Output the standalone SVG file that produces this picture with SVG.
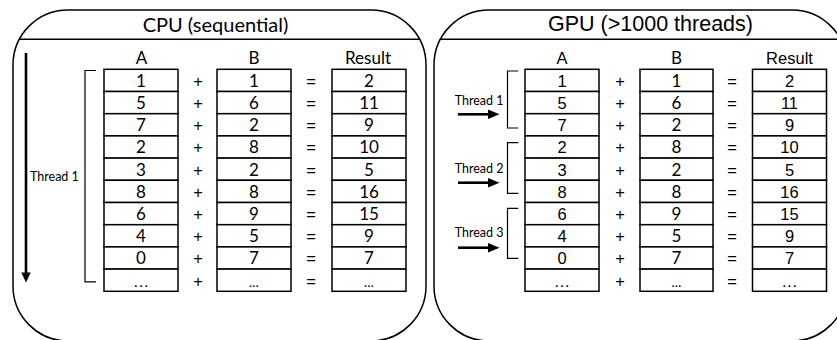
<svg xmlns="http://www.w3.org/2000/svg" width="837" height="340" viewBox="0 0 837 340">
<defs>
<style>
.panel{fill:#fff;stroke:#000;stroke-width:1.5}
.div{stroke:#000;stroke-width:1.5}
.cell{fill:#fff;stroke:#000;stroke-width:1.5}
.t{font-size:16.5px;text-anchor:middle;fill:#000}
.cal{font-family:Lato,"Open Sans",sans-serif;font-size:17px}
.ar{font-family:"Liberation Sans",Arial,sans-serif}
.title{text-anchor:middle;fill:#000}
.thr{font-family:Lato,"Open Sans",sans-serif;font-size:12.5px;fill:#000}
.br{fill:none;stroke:#000;stroke-width:1.2}
.arr{stroke:#000;stroke-width:2.6}
</style>
</defs>
<g id="panel-cpu">
<rect class="panel" x="13" y="10" width="413" height="331" rx="55" ry="55"/>
<line class="div" x1="19.5" y1="39.3" x2="419.5" y2="39.3"/>
<text class="title" x="215.5" y="31.5" style="font-family:Lato,'Open Sans',sans-serif;font-size:20px">CPU (sequential)</text>
</g>
<g id="panel-gpu">
<rect class="panel" x="434" y="10" width="413" height="331" rx="55" ry="55"/>
<line class="div" x1="440.5" y1="39.3" x2="840.5" y2="39.3"/>
<text class="title" x="650.5" y="31" style="font-family:'Liberation Sans',Arial,sans-serif;font-size:21.5px">GPU (&gt;1000 threads)</text>
</g>
<g id="cpu-headers">
<text class="t cal" x="141.5" y="64.3">A</text>
<text class="t cal" x="254" y="64.3">B</text>
<text class="t cal" x="368" y="64.3">Result</text>
</g>
<g id="gpu-headers">
<text class="t ar" x="562" y="64.3">A</text>
<text class="t cal" x="676.5" y="64.3">B</text>
<text class="t ar" x="789.5" y="64.3">Result</text>
</g>
<g id="cpu-col-a">
<rect class="cell" x="104" y="69.3" width="74" height="22.2"/><text class="t cal" x="141" y="86.7">1</text>
<rect class="cell" x="104" y="91.5" width="74" height="22.2"/><text class="t cal" x="141" y="108.9">5</text>
<rect class="cell" x="104" y="113.7" width="74" height="22.2"/><text class="t cal" x="141" y="131.1">7</text>
<rect class="cell" x="104" y="135.9" width="74" height="22.2"/><text class="t cal" x="141" y="153.3">2</text>
<rect class="cell" x="104" y="158.1" width="74" height="22.2"/><text class="t cal" x="141" y="175.5">3</text>
<rect class="cell" x="104" y="180.3" width="74" height="22.2"/><text class="t cal" x="141" y="197.7">8</text>
<rect class="cell" x="104" y="202.5" width="74" height="22.2"/><text class="t cal" x="141" y="219.9">6</text>
<rect class="cell" x="104" y="224.7" width="74" height="22.2"/><text class="t cal" x="141" y="242.1">4</text>
<rect class="cell" x="104" y="246.9" width="74" height="22.2"/><text class="t cal" x="141" y="264.3">0</text>
<rect class="cell" x="104" y="269.1" width="74" height="22.2"/><text class="t ar" x="141" y="286.5" font-size="14">…</text>
</g>
<g id="cpu-col-b">
<rect class="cell" x="217" y="69.3" width="74" height="22.2"/><text class="t cal" x="254" y="86.7">1</text>
<rect class="cell" x="217" y="91.5" width="74" height="22.2"/><text class="t cal" x="254" y="108.9">6</text>
<rect class="cell" x="217" y="113.7" width="74" height="22.2"/><text class="t cal" x="254" y="131.1">2</text>
<rect class="cell" x="217" y="135.9" width="74" height="22.2"/><text class="t cal" x="254" y="153.3">8</text>
<rect class="cell" x="217" y="158.1" width="74" height="22.2"/><text class="t cal" x="254" y="175.5">2</text>
<rect class="cell" x="217" y="180.3" width="74" height="22.2"/><text class="t cal" x="254" y="197.7">8</text>
<rect class="cell" x="217" y="202.5" width="74" height="22.2"/><text class="t cal" x="254" y="219.9">9</text>
<rect class="cell" x="217" y="224.7" width="74" height="22.2"/><text class="t cal" x="254" y="242.1">5</text>
<rect class="cell" x="217" y="246.9" width="74" height="22.2"/><text class="t cal" x="254" y="264.3">7</text>
<rect class="cell" x="217" y="269.1" width="74" height="22.2"/><text class="t cal" x="254" y="286.5" style="font-size:13px">…</text>
</g>
<g id="cpu-ops">
<text class="t ar" x="198" y="86.7">+</text><text class="t ar" x="311" y="86.7">=</text>
<text class="t ar" x="198" y="108.9">+</text><text class="t ar" x="311" y="108.9">=</text>
<text class="t ar" x="198" y="131.1">+</text><text class="t ar" x="311" y="131.1">=</text>
<text class="t ar" x="198" y="153.3">+</text><text class="t ar" x="311" y="153.3">=</text>
<text class="t ar" x="198" y="175.5">+</text><text class="t ar" x="311" y="175.5">=</text>
<text class="t ar" x="198" y="197.7">+</text><text class="t ar" x="311" y="197.7">=</text>
<text class="t ar" x="198" y="219.9">+</text><text class="t ar" x="311" y="219.9">=</text>
<text class="t ar" x="198" y="242.1">+</text><text class="t ar" x="311" y="242.1">=</text>
<text class="t ar" x="198" y="264.3">+</text><text class="t ar" x="311" y="264.3">=</text>
<text class="t ar" x="198" y="286.5">+</text><text class="t ar" x="311" y="286.5">=</text>
</g>
<g id="cpu-col-result">
<rect class="cell" x="332" y="69.3" width="74" height="22.2"/><text class="t cal" x="369" y="86.7">2</text>
<rect class="cell" x="332" y="91.5" width="74" height="22.2"/><text class="t cal" x="369" y="108.9">11</text>
<rect class="cell" x="332" y="113.7" width="74" height="22.2"/><text class="t cal" x="369" y="131.1">9</text>
<rect class="cell" x="332" y="135.9" width="74" height="22.2"/><text class="t cal" x="369" y="153.3">10</text>
<rect class="cell" x="332" y="158.1" width="74" height="22.2"/><text class="t cal" x="369" y="175.5">5</text>
<rect class="cell" x="332" y="180.3" width="74" height="22.2"/><text class="t cal" x="369" y="197.7">16</text>
<rect class="cell" x="332" y="202.5" width="74" height="22.2"/><text class="t cal" x="369" y="219.9">15</text>
<rect class="cell" x="332" y="224.7" width="74" height="22.2"/><text class="t cal" x="369" y="242.1">9</text>
<rect class="cell" x="332" y="246.9" width="74" height="22.2"/><text class="t cal" x="369" y="264.3">7</text>
<rect class="cell" x="332" y="269.1" width="74" height="22.2"/><text class="t cal" x="369" y="286.5" style="font-size:13px">…</text>
</g>
<g id="gpu-col-a">
<rect class="cell" x="525" y="69.3" width="74" height="22.2"/><text class="t ar" x="562" y="86.7">1</text>
<rect class="cell" x="525" y="91.5" width="74" height="22.2"/><text class="t ar" x="562" y="108.9">5</text>
<rect class="cell" x="525" y="113.7" width="74" height="22.2"/><text class="t ar" x="562" y="131.1">7</text>
<rect class="cell" x="525" y="135.9" width="74" height="22.2"/><text class="t ar" x="562" y="153.3">2</text>
<rect class="cell" x="525" y="158.1" width="74" height="22.2"/><text class="t ar" x="562" y="175.5">3</text>
<rect class="cell" x="525" y="180.3" width="74" height="22.2"/><text class="t ar" x="562" y="197.7">8</text>
<rect class="cell" x="525" y="202.5" width="74" height="22.2"/><text class="t ar" x="562" y="219.9">6</text>
<rect class="cell" x="525" y="224.7" width="74" height="22.2"/><text class="t ar" x="562" y="242.1">4</text>
<rect class="cell" x="525" y="246.9" width="74" height="22.2"/><text class="t ar" x="562" y="264.3">0</text>
<rect class="cell" x="525" y="269.1" width="74" height="22.2"/><text class="t ar" x="562" y="286.5" font-size="14">…</text>
</g>
<g id="gpu-col-b">
<rect class="cell" x="640" y="69.3" width="73" height="22.2"/><text class="t cal" x="676.5" y="86.7">1</text>
<rect class="cell" x="640" y="91.5" width="73" height="22.2"/><text class="t cal" x="676.5" y="108.9">6</text>
<rect class="cell" x="640" y="113.7" width="73" height="22.2"/><text class="t cal" x="676.5" y="131.1">2</text>
<rect class="cell" x="640" y="135.9" width="73" height="22.2"/><text class="t cal" x="676.5" y="153.3">8</text>
<rect class="cell" x="640" y="158.1" width="73" height="22.2"/><text class="t cal" x="676.5" y="175.5">2</text>
<rect class="cell" x="640" y="180.3" width="73" height="22.2"/><text class="t cal" x="676.5" y="197.7">8</text>
<rect class="cell" x="640" y="202.5" width="73" height="22.2"/><text class="t cal" x="676.5" y="219.9">9</text>
<rect class="cell" x="640" y="224.7" width="73" height="22.2"/><text class="t cal" x="676.5" y="242.1">5</text>
<rect class="cell" x="640" y="246.9" width="73" height="22.2"/><text class="t cal" x="676.5" y="264.3">7</text>
<rect class="cell" x="640" y="269.1" width="73" height="22.2"/><text class="t cal" x="676.5" y="286.5" style="font-size:13px">…</text>
</g>
<g id="gpu-ops">
<text class="t ar" x="620" y="86.7">+</text><text class="t ar" x="732" y="86.7">=</text>
<text class="t ar" x="620" y="108.9">+</text><text class="t ar" x="732" y="108.9">=</text>
<text class="t ar" x="620" y="131.1">+</text><text class="t ar" x="732" y="131.1">=</text>
<text class="t ar" x="620" y="153.3">+</text><text class="t ar" x="732" y="153.3">=</text>
<text class="t ar" x="620" y="175.5">+</text><text class="t ar" x="732" y="175.5">=</text>
<text class="t ar" x="620" y="197.7">+</text><text class="t ar" x="732" y="197.7">=</text>
<text class="t ar" x="620" y="219.9">+</text><text class="t ar" x="732" y="219.9">=</text>
<text class="t ar" x="620" y="242.1">+</text><text class="t ar" x="732" y="242.1">=</text>
<text class="t ar" x="620" y="264.3">+</text><text class="t ar" x="732" y="264.3">=</text>
<text class="t ar" x="620" y="286.5">+</text><text class="t ar" x="732" y="286.5">=</text>
</g>
<g id="gpu-col-result">
<rect class="cell" x="752.5" y="69.3" width="74" height="22.2"/><text class="t ar" x="789.5" y="86.7">2</text>
<rect class="cell" x="752.5" y="91.5" width="74" height="22.2"/><text class="t ar" x="789.5" y="108.9">11</text>
<rect class="cell" x="752.5" y="113.7" width="74" height="22.2"/><text class="t ar" x="789.5" y="131.1">9</text>
<rect class="cell" x="752.5" y="135.9" width="74" height="22.2"/><text class="t ar" x="789.5" y="153.3">10</text>
<rect class="cell" x="752.5" y="158.1" width="74" height="22.2"/><text class="t ar" x="789.5" y="175.5">5</text>
<rect class="cell" x="752.5" y="180.3" width="74" height="22.2"/><text class="t ar" x="789.5" y="197.7">16</text>
<rect class="cell" x="752.5" y="202.5" width="74" height="22.2"/><text class="t ar" x="789.5" y="219.9">15</text>
<rect class="cell" x="752.5" y="224.7" width="74" height="22.2"/><text class="t ar" x="789.5" y="242.1">9</text>
<rect class="cell" x="752.5" y="246.9" width="74" height="22.2"/><text class="t ar" x="789.5" y="264.3">7</text>
<rect class="cell" x="752.5" y="269.1" width="74" height="22.2"/><text class="t ar" x="789.5" y="286.5" font-size="14">…</text>
</g>
<g id="thread-labels">
<text class="thr" x="30" y="181">Thread 1</text>
<text class="thr" x="503.5" y="105" text-anchor="end">Thread 1</text>
<text class="thr" x="503.5" y="172.5" text-anchor="end">Thread 2</text>
<text class="thr" x="503.5" y="237" text-anchor="end">Thread 3</text>
</g>
<g id="connectors">
<path class="br" d="M96,70.5 H85 V281.8 H96"/>
<path class="br" d="M518.3,71 H507.5 V128 H518.3"/>
<path class="br" d="M518.3,142.7 H507.5 V193.3 H518.3"/>
<path class="br" d="M518.3,208.3 H507.5 V258.3 H518.3"/>
<line class="arr" x1="26" y1="53" x2="26" y2="274"/>
<polygon points="21.3,272.5 30.7,272.5 26,282.5" fill="#000"/>
<line class="arr" x1="458" y1="114.3" x2="490" y2="114.3"/>
<polygon points="488,109.6 488,119 499.5,114.3" fill="#000"/>
<line class="arr" x1="458" y1="182.7" x2="490" y2="182.7"/>
<polygon points="488,178 488,187.4 499.5,182.7" fill="#000"/>
<line class="arr" x1="458" y1="247.7" x2="490" y2="247.7"/>
<polygon points="488,243 488,252.4 499.5,247.7" fill="#000"/>
</g>
</svg>
